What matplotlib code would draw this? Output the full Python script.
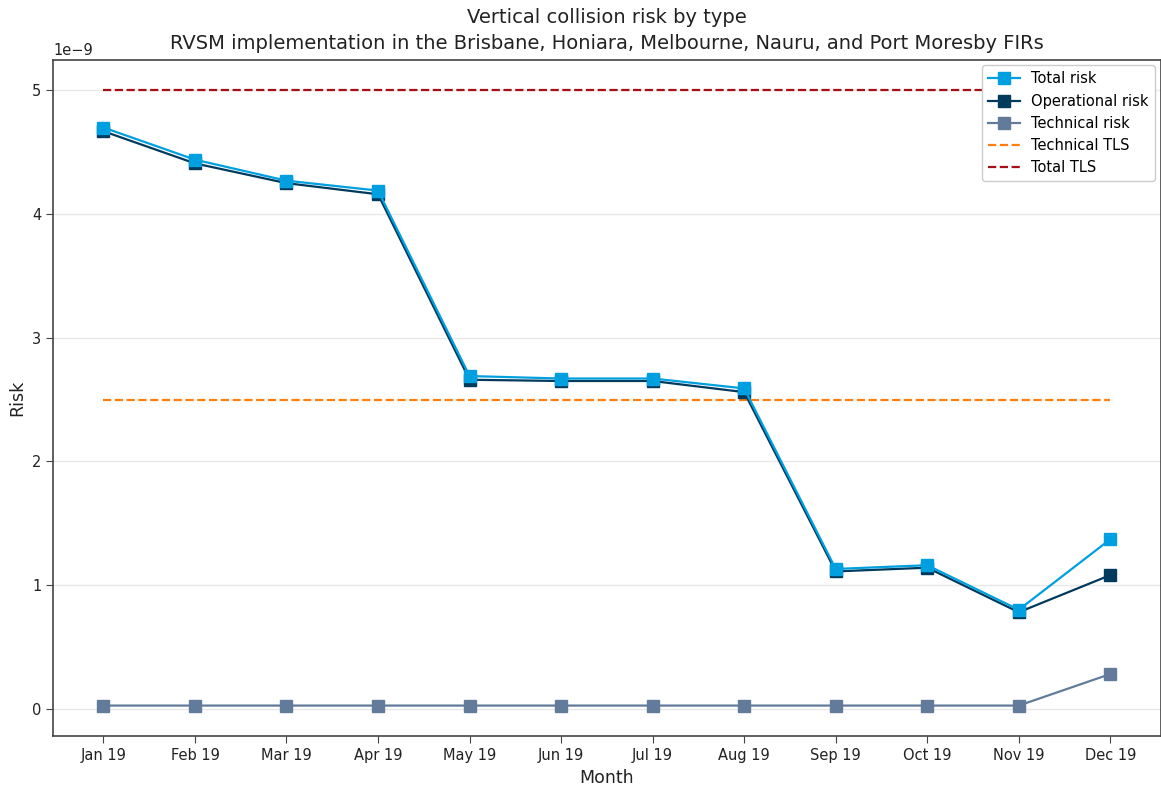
import matplotlib
matplotlib.use("Agg")
import matplotlib.pyplot as plt

months = ["Jan 19", "Feb 19", "Mar 19", "Apr 19", "May 19", "Jun 19",
          "Jul 19", "Aug 19", "Sep 19", "Oct 19", "Nov 19", "Dec 19"]
total_risk = [4.70, 4.44, 4.27, 4.19, 2.69, 2.67, 2.67, 2.59, 1.13, 1.16, 0.80, 1.37]
operational_risk = [4.67, 4.41, 4.25, 4.16, 2.66, 2.65, 2.65, 2.56, 1.11, 1.14, 0.78, 1.08]
technical_risk = [0.025, 0.025, 0.025, 0.025, 0.025, 0.025, 0.025, 0.025, 0.025, 0.025, 0.025, 0.28]
technical_tls = 2.5
total_tls = 5.0
scale = 1e-9

fig = plt.figure(figsize=(11.61, 7.85), dpi=100)
ax = fig.add_axes([0.0457, 0.062, 0.954, 0.862])

x = list(range(len(months)))
ax.plot(x, [v * scale for v in total_risk], color="#00a0e0", marker="s", markersize=8.5,
        linewidth=1.6, label="Total risk", zorder=4)
ax.plot(x, [v * scale for v in operational_risk], color="#003a5d", marker="s", markersize=8.5,
        linewidth=1.6, label="Operational risk", zorder=3)
ax.plot(x, [v * scale for v in technical_risk], color="#637b9b", marker="s", markersize=8.5,
        linewidth=1.6, label="Technical risk", zorder=3)
ax.plot(x, [technical_tls * scale] * len(x), color="#ff7f0e", linestyle="--",
        linewidth=1.6, label="Technical TLS", zorder=2)
ax.plot(x, [total_tls * scale] * len(x), color="#a50f15", linestyle="--",
        linewidth=1.6, label="Total TLS", zorder=2)

ax.set_xticks(x)
ax.set_xticklabels(months)
ax.set_yticks([0, 1e-9, 2e-9, 3e-9, 4e-9, 5e-9])
ax.grid(axis="y", color="#e8e8e8", linewidth=1)
ax.set_axisbelow(True)
for s in ax.spines.values():
    s.set_color("#444444")
    s.set_linewidth(1.2)
ax.tick_params(axis="both", labelsize=10.5, colors="#222222", length=5, color="#444444")
ax.yaxis.get_offset_text().set_fontsize(10.5)

ax.set_xlabel("Month", fontsize=12.5, color="#222222")
ax.set_ylabel("Risk", fontsize=12.5, color="#222222")
ax.set_title("Vertical collision risk by type\nRVSM implementation in the Brisbane, Honiara, Melbourne, Nauru, and Port Moresby FIRs",
             fontsize=14, color="#222222", linespacing=1.45, pad=8)

ax.legend(loc="upper right", fontsize=10.5, framealpha=1, edgecolor="#cccccc",
          borderaxespad=0.4, handlelength=2.2)

fig.savefig("out.png", dpi=100)
